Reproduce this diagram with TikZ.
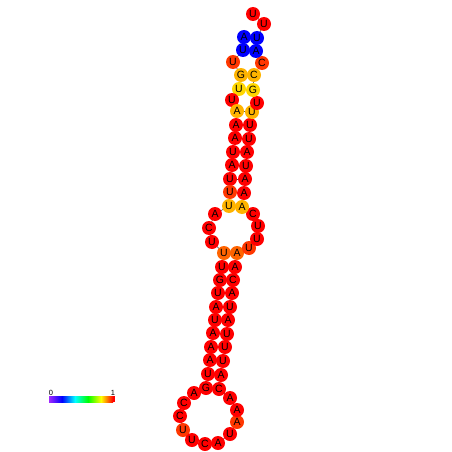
\documentclass[tikz,border=0pt]{standalone}
\usepackage{fontspec}
\setmainfont{Liberation Sans}
\usetikzlibrary{backgrounds}
\definecolor{cred}{RGB}{255,0,0}
\definecolor{corred}{RGB}{255,55,0}
\definecolor{corng}{RGB}{255,100,0}
\definecolor{cgold}{RGB}{255,180,0}
\definecolor{cyel}{RGB}{255,215,0}
\definecolor{cblue}{RGB}{0,0,255}
\definecolor{cpurp}{RGB}{160,40,255}
\definecolor{bbline}{RGB}{60,60,60}
\tikzset{
  nt/.style={circle, inner sep=0pt, minimum size=14pt, font=\fontsize{10.5}{10.5}\selectfont, text=black},
  bb/.style={draw=bbline, line width=0.5pt},
  barlabel/.style={font=\fontsize{7.5}{7.5}\selectfont, inner sep=0pt}
}
\begin{document}
\begin{tikzpicture}[x=1pt,y=-1pt]
\useasboundingbox (0,0) rectangle (452,452);
\foreach \i/\x/\y/\l/\c in {
1/244/37/A/cblue, 2/243/50/U/cblue, 3/233/62/U/corred, 4/241/75/G/cgold, 5/239/89/U/cyel,
6/232/100/U/cred, 7/237/111/A/cgold, 8/236/125/A/cred, 9/235/138/A/cred, 10/233/152/U/cred,
11/232/165/A/cred, 12/230/179/U/cred, 13/230/192/U/corred, 14/229/206/U/cgold, 15/215/214/A/cred,
16/209/228/C/cred, 17/212/242/U/cred, 18/224/253/U/corng, 19/222/267/U/cred, 20/220/280/G/cred,
21/218/293/U/cred, 22/216/307/A/cred, 23/215/320/U/cred, 24/213/333/A/cred, 25/211/347/A/cred,
26/210/360/A/cred, 27/208/374/U/cred, 28/206/388/G/cred, 29/194/393/A/cred, 30/184/403/C/cred,
31/180/416/C/cred, 32/183/430/U/corred, 33/192/440/U/cred, 34/205/444/C/cred, 35/218/443/A/cred,
36/230/434/U/cred, 37/237/422/A/corred, 38/237/410/A/cred, 39/230/398/A/cred, 40/219/389/C/cred,
41/221/375/A/cred, 42/223/361/U/cred, 43/225/347/U/cred, 44/227/334/U/cred, 45/228/320/A/cred,
46/230/307/U/cred, 47/232/293/A/cred, 48/233/280/C/cred, 49/235/267/A/cred, 50/237/253/A/corng,
51/249/248/U/corred, 52/257/239/U/cred, 53/258/226/U/cred, 54/253/214/C/cred, 55/242/207/A/cgold,
56/244/193/A/cred, 57/245/179/A/cred, 58/246/166/U/cred, 59/247/152/A/cred, 60/249/139/U/cred,
61/250/125/U/cred, 62/252/112/U/cgold, 63/257/103/U/cred, 64/253/90/G/cyel, 65/254/75/C/cgold,
66/262/63/C/corred, 67/256/51/A/cblue, 68/257/38/U/cblue, 69/264/24/U/cred, 70/253/14/U/cred}
  \node[nt, fill=\c] (n\i) at (\x,\y) {\l};
\begin{scope}[on background layer]
  \foreach \i [evaluate=\i as \j using int(\i+1)] in {1,...,69}
    \draw[bb] (n\i.center) -- (n\j.center);
  \foreach \a/\b in {1/68,2/67,4/65,5/64,7/62,8/61,9/60,10/59,11/58,12/57,13/56,14/55,
    18/50,19/49,20/48,21/47,22/46,23/45,24/44,25/43,26/42,27/41,28/40}
    \draw[bb] (n\a.center) -- (n\b.center);
\end{scope}
% colour bar
\shade[left color=cpurp, right color=cblue] (49,396) rectangle (62,402);
\shade[left color=cblue, right color=cyan] (62,396) rectangle (75,402);
\shade[left color=cyan, right color=green] (75,396) rectangle (88,402);
\shade[left color=green, right color=yellow] (88,396) rectangle (101,402);
\shade[left color=yellow, right color=red] (101,396) rectangle (113,402);
\fill[red] (112.9,396) rectangle (115,402);
\node[barlabel] (lab0) at (51,392.5) {0};
\node[barlabel] (lab1) at (113,392.5) {1};
\end{tikzpicture}
\end{document}
